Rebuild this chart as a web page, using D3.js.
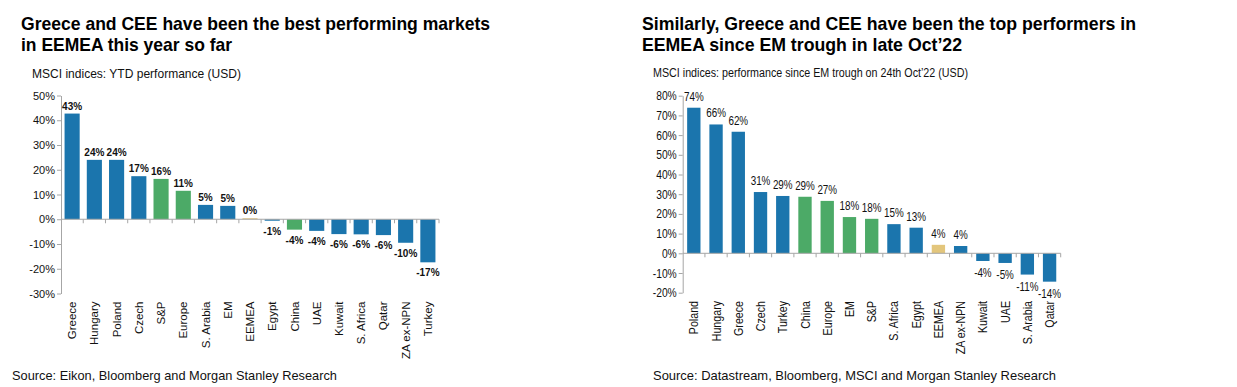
<!DOCTYPE html>
<html>
<head>
<meta charset="utf-8">
<script src="https://cdn.jsdelivr.net/npm/d3@7"></script>
<style>
  body { margin: 0; background: #fff; }
  svg { display: block; }
</style>
</head>
<body>
<div id="chart"></div>
<script>
// Left chart: YTD performance
const ytdCategories = ["Greece", "Hungary", "Poland", "Czech", "S&P", "Europe", "S. Arabia", "EM", "EEMEA",
    "Egypt", "China", "UAE", "Kuwait", "S. Africa", "Qatar", "ZA ex-NPN", "Turkey"];
const ytdValues = [42.7, 24.0, 24.0, 17.4, 16.3, 11.5, 5.8, 5.4, 0.4, -0.6, -4.2, -4.7, -6.0, -6.1, -6.4, -9.5, -17.4];
const ytdLabels = ["43%", "24%", "24%", "17%", "16%", "11%", "5%", "5%", "0%", "-1%", "-4%", "-4%", "-6%", "-6%", "-6%", "-10%", "-17%"];
const ytdGroups = ["c", "c", "c", "c", "g", "g", "c", "c", "e", "c", "g", "c", "c", "c", "c", "c", "c"];
const ytdTicks = [50, 40, 30, 20, 10, 0, -10, -20, -30];

// Right chart: since EM trough 24 Oct'22
const troughCategories = ["Poland", "Hungary", "Greece", "Czech", "Turkey", "China", "Europe", "EM", "S&P",
    "S. Africa", "Egypt", "EEMEA", "ZA ex-NPN", "Kuwait", "UAE", "S. Arabia", "Qatar"];
const troughValues = [73.9, 65.4, 61.7, 31.1, 29.1, 28.7, 26.6, 18.4, 17.5, 14.8, 13.0, 4.3, 3.7, -3.9, -4.9, -10.8, -14.4];
const troughLabels = ["74%", "66%", "62%", "31%", "29%", "29%", "27%", "18%", "18%", "15%", "13%", "4%", "4%", "-4%", "-5%", "-11%", "-14%"];
const troughGroups = ["c", "c", "c", "c", "c", "g", "g", "g", "g", "c", "c", "e", "c", "c", "c", "c", "c"];
const troughTicks = [80, 70, 60, 50, 40, 30, 20, 10, 0, -10, -20];

const colors = { c: "#1b75ad", g: "#4caa67", e: "#e3c67c" };
const FONT = "Liberation Sans, Arial, sans-serif";

const svg = d3.select("#chart").append("svg")
    .attr("width", 1237)
    .attr("height", 387);

// resserre un texte (police "narrow" absente)
function squeeze(sel, k) {
    if (k === 1) return;
    sel.each(function() {
        const w = this.getComputedTextLength();
        d3.select(this)
            .attr("textLength", w * k)
            .attr("lengthAdjust", "spacingAndGlyphs");
    });
}

function drawPanel(opt) {
    const g = svg.append("g");

    // titre
    const title = g.append("text")
        .attr("font-family", FONT)
        .attr("font-weight", "bold")
        .attr("font-size", 19)
        .attr("fill", "#000");
    opt.title.forEach((line, i) => {
        title.append("tspan")
            .attr("x", opt.titleX)
            .attr("y", 30 + i * 21)
            .attr("textLength", opt.titleWidths[i])
            .attr("lengthAdjust", "spacingAndGlyphs")
            .text(line);
    });

    g.append("text")
        .attr("x", opt.subX)
        .attr("y", opt.subY)
        .attr("font-family", FONT)
        .attr("font-size", opt.subSize)
        .attr("textLength", opt.subWidth)
        .attr("lengthAdjust", "spacingAndGlyphs")
        .attr("fill", "#111")
        .text(opt.subtitle);

    const x = d3.scaleBand()
        .domain(opt.categories)
        .range([opt.x0, opt.x1])
        .paddingInner(opt.pad)
        .paddingOuter(opt.pad / 2);

    const y = d3.scaleLinear()
        .domain(opt.domain)
        .range([opt.yBottom, opt.yTop]);

    // axe Y
    const yAxis = g.append("g")
        .attr("transform", `translate(${opt.x0},0)`)
        .call(d3.axisLeft(y).tickValues(opt.ticks).tickSize(4).tickSizeOuter(0).tickFormat(d => d + "%"));
    yAxis.select(".domain").attr("stroke", "#a6a6a6");
    yAxis.selectAll(".tick line").attr("stroke", "#a6a6a6");
    yAxis.selectAll(".tick text")
        .attr("font-family", FONT)
        .attr("font-size", opt.tickSize)
        .attr("fill", "#111")
        .attr("x", -6)
        .call(squeeze, opt.squeeze);

    // barres
    g.selectAll(".bar")
        .data(opt.values)
        .enter()
        .append("rect")
        .attr("x", (d, i) => x(opt.categories[i]))
        .attr("width", x.bandwidth())
        .attr("y", d => y(Math.max(0, d)))
        .attr("height", d => Math.abs(y(d) - y(0)))
        .attr("fill", (d, i) => colors[opt.groups[i]]);

    // ligne zéro + graduations catégories
    const zero = y(0);
    g.append("line")
        .attr("x1", opt.x0).attr("x2", opt.x1)
        .attr("y1", zero).attr("y2", zero)
        .attr("stroke", "#a6a6a6");
    d3.range(1, opt.categories.length + 1).forEach(i => {
        const xx = opt.x0 + i * x.step();
        g.append("line")
            .attr("x1", xx).attr("x2", xx)
            .attr("y1", zero).attr("y2", zero + 4)
            .attr("stroke", "#a6a6a6");
    });

    // étiquettes de valeurs
    g.selectAll(".val")
        .data(opt.values)
        .enter()
        .append("text")
        .attr("x", (d, i) => x(opt.categories[i]) + x.bandwidth() / 2)
        .attr("y", d => d >= 0 ? y(d) - opt.labelUp : y(d) + opt.labelDown)
        .attr("text-anchor", "middle")
        .attr("font-family", FONT)
        .attr("font-weight", opt.labelWeight)
        .attr("font-size", opt.labelSize)
        .attr("fill", "#111")
        .text((d, i) => opt.labels[i])
        .call(squeeze, opt.squeeze);

    // catégories (verticales)
    g.selectAll(".cat")
        .data(opt.categories)
        .enter()
        .append("text")
        .attr("transform", d => `translate(${x(d) + x.bandwidth() / 2},${opt.catTop}) rotate(-90)`)
        .attr("text-anchor", "end")
        .attr("dy", "0.35em")
        .attr("font-family", FONT)
        .attr("font-size", opt.catSize)
        .attr("fill", "#111")
        .text(d => d)
        .call(squeeze, opt.squeeze);

    // source
    g.append("text")
        .attr("x", opt.srcX)
        .attr("y", 380)
        .attr("font-family", FONT)
        .attr("font-size", 13.5)
        .attr("textLength", opt.srcWidth)
        .attr("lengthAdjust", "spacingAndGlyphs")
        .attr("fill", "#111")
        .text(opt.source);
}

drawPanel({
    title: ["Greece and CEE have been the best performing markets", "in EEMEA this year so far"],
    titleX: 21, titleWidths: [469, 211],
    subtitle: "MSCI indices: YTD performance (USD)",
    subX: 32, subY: 78, subSize: 13, subWidth: 209,
    squeeze: 1,
    categories: ytdCategories, values: ytdValues, labels: ytdLabels, groups: ytdGroups,
    ticks: ytdTicks, domain: [-30, 50],
    x0: 61, x1: 439, yTop: 95.5, yBottom: 293.5, pad: 0.32,
    tickSize: 11, labelSize: 10, labelWeight: "bold", labelUp: 4, labelDown: 14,
    catTop: 301.5, catSize: 11.5,
    srcX: 12, srcWidth: 325,
    source: "Source: Eikon, Bloomberg and Morgan Stanley Research"
});

drawPanel({
    title: ["Similarly, Greece and CEE have been the top performers in", "EEMEA since EM trough in late Oct\u201922"],
    titleX: 642, titleWidths: [494, 320],
    subtitle: "MSCI indices: performance since EM trough on 24th Oct\u201922 (USD)",
    subX: 653, subY: 77, subSize: 12.5, subWidth: 315,
    squeeze: 0.82,
    categories: troughCategories, values: troughValues, labels: troughLabels, groups: troughGroups,
    ticks: troughTicks, domain: [-20, 80],
    x0: 682.7, x1: 1060.7, yTop: 95.7, yBottom: 292.7, pad: 0.4,
    tickSize: 12.5, labelSize: 12, labelWeight: "normal", labelUp: 7, labelDown: 16,
    catTop: 301, catSize: 13,
    srcX: 653, srcWidth: 403,
    source: "Source: Datastream, Bloomberg, MSCI and Morgan Stanley Research"
});
</script>
</body>
</html>
